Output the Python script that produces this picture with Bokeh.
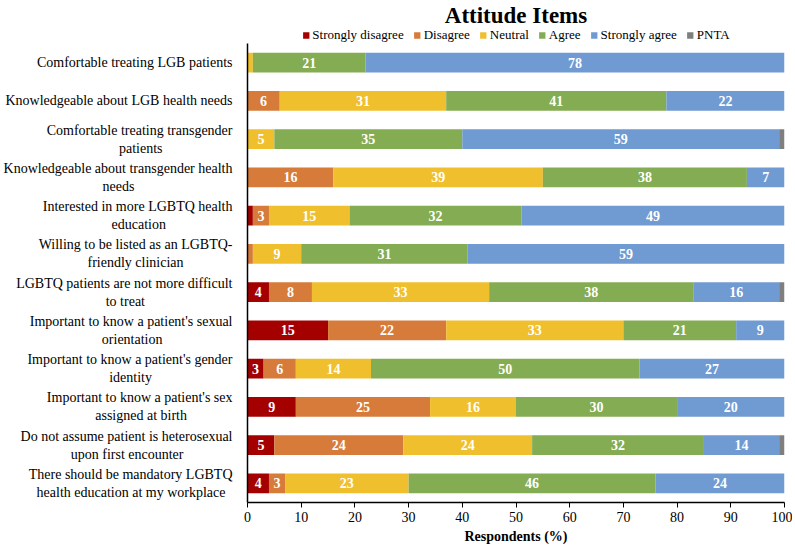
from bokeh.plotting import figure
from bokeh.layouts import column
from bokeh.models import ColumnDataSource, FactorRange, Legend, LegendItem, Range1d, FixedTicker
from bokeh.core.properties import value
from bokeh.embed import file_html
from bokeh.resources import INLINE

items = [
    "Comfortable treating LGB patients",
    "Knowledgeable about LGB health needs",
    "Comfortable treating transgender\npatients",
    "Knowledgeable about transgender health\nneeds",
    "Interested in more LGBTQ health\neducation",
    "Willing to be listed as an LGBTQ-\nfriendly clinician",
    "LGBTQ patients are not more difficult\nto treat",
    "Important to know a patient's sexual\norientation",
    "Important to know a patient's gender\nidentity",
    "Important to know a patient's sex\nassigned at birth",
    "Do not assume patient is heterosexual\nupon first encounter",
    "There should be mandatory LGBTQ\nhealth education at my workplace",
]
strongly_disagree = [0, 0, 0, 0, 1, 0, 4, 15, 3, 9, 5, 4]
disagree          = [0, 6, 0, 16, 3, 1, 8, 22, 6, 25, 24, 3]
neutral           = [1, 31, 5, 39, 15, 9, 33, 33, 14, 16, 24, 23]
agree             = [21, 41, 35, 38, 32, 31, 38, 21, 50, 30, 32, 46]
strongly_agree    = [78, 22, 59, 7, 49, 59, 16, 9, 27, 20, 14, 24]
pnta              = [0, 0, 1, 0, 0, 0, 1, 0, 0, 0, 1, 0]

series_names = ["Strongly disagree", "Disagree", "Neutral", "Agree", "Strongly agree", "PNTA"]
series_vals = [strongly_disagree, disagree, neutral, agree, strongly_agree, pnta]
colors = ["#A50000", "#D67B3A", "#F0BF2D", "#84AC52", "#6F9AD2", "#7F7F7F"]
keys = ["sd", "d", "n", "a", "sa", "p"]

# Approximate Times/Liberation Serif advance widths (per 1000 em) to centre
# the second line of each two-line label under the first (as in the reference).
_W = {" ": 250, "a": 444, "b": 500, "c": 444, "d": 500, "e": 444, "f": 333, "g": 500,
      "h": 500, "i": 278, "j": 278, "k": 500, "l": 278, "m": 778, "n": 500, "o": 500,
      "p": 500, "q": 500, "r": 333, "s": 389, "t": 278, "u": 500, "v": 500, "w": 722,
      "x": 500, "y": 500, "z": 444, "A": 722, "B": 667, "C": 667, "D": 722, "E": 611,
      "F": 556, "G": 722, "H": 722, "I": 333, "K": 722, "L": 611, "M": 889, "N": 722,
      "O": 722, "P": 556, "Q": 722, "R": 667, "S": 556, "T": 611, "U": 722, "W": 944,
      "-": 333, "'": 180}


def _width(s):
    return sum(_W.get(c, 500) for c in s)


def centred(label):
    lines = label.split("\n")
    if len(lines) < 2:
        return label
    wmax = max(_width(l) for l in lines)
    out = []
    for l in lines:
        n = int(round((wmax - _width(l)) / 2 / 250))
        out.append(l + "\u00a0" * n)
    return "\n".join(out)


display_items = [centred(s) for s in items]

data = {"item": display_items}
for k, v in zip(keys, series_vals):
    data[k] = v
source = ColumnDataSource(data)

SERIF = "Liberation Serif"
W = 792
LEFT = 245
RIGHT = 8

# ---------------- header: title + legend ----------------
head = figure(width=W, height=42, output_backend="svg", toolbar_location=None,
              min_border_left=LEFT, min_border_right=RIGHT, min_border_top=0, min_border_bottom=0)
head.axis.visible = False
head.grid.grid_line_color = None
head.outline_line_color = None
leg_rs = [head.hbar(y=[0], left=[0], right=[0], height=0, fill_color=c, line_color=None)
          for c in colors]
legend = Legend(items=[LegendItem(label=n, renderers=[r]) for n, r in zip(series_names, leg_rs)],
                orientation="horizontal", location="center",
                label_text_font=SERIF, label_text_font_size="13px", label_text_color="black",
                glyph_width=8, glyph_height=8, spacing=9, label_standoff=3,
                padding=0, margin=0, border_line_color=None, background_fill_alpha=0)
head.add_layout(legend)
head.title.text = "Attitude Items"
head.title.text_font = SERIF
head.title.text_font_size = "23px"
head.title.text_font_style = "bold"
head.title.text_color = "black"
head.title.align = "center"
head.title.standoff = 0

# ---------------- main chart ----------------
p = figure(width=W, height=504, output_backend="svg", toolbar_location=None,
           y_range=FactorRange(*list(reversed(display_items)), range_padding=0),
           x_range=Range1d(0, 100),
           min_border_left=LEFT, min_border_right=RIGHT, min_border_top=1, min_border_bottom=0)

p.hbar_stack(keys, y="item", height=0.52, color=colors, source=source, line_color=None)

# value labels
lx, ly, lt = [], [], []
for i, it in enumerate(display_items):
    cum = 0
    for vals in series_vals:
        v = vals[i]
        if v >= 3:
            lx.append(cum + v / 2)
            ly.append(it)
            lt.append(str(v))
        cum += v
p.text(x=lx, y=ly, text=lt, text_color="white", text_font=value(SERIF),
       text_font_style="bold", text_font_size="14px", text_align="center",
       text_baseline="middle")

p.xgrid.grid_line_color = None
p.ygrid.grid_line_color = None
p.outline_line_color = None

p.xaxis.ticker = FixedTicker(ticks=list(range(0, 101, 10)))
p.xaxis.axis_label = "Respondents (%)"
p.xaxis.axis_label_text_font = SERIF
p.xaxis.axis_label_text_font_style = "bold"
p.xaxis.axis_label_text_font_size = "14px"
p.xaxis.axis_label_text_color = "black"
p.xaxis.axis_label_standoff = 4
p.xaxis.major_label_text_font = SERIF
p.xaxis.major_label_text_font_size = "14px"
p.xaxis.major_label_text_color = "black"
p.xaxis.major_label_standoff = 4
p.xaxis.major_tick_out = 5
p.xaxis.major_tick_in = 0
p.xaxis.minor_tick_line_color = None
p.xaxis.axis_line_width = 1.5
p.xaxis.axis_line_color = "black"

p.yaxis.major_label_text_font = SERIF
p.yaxis.major_label_text_font_size = "14px"
p.yaxis.major_label_text_color = "black"
p.yaxis.major_tick_line_color = None
p.yaxis.axis_line_width = 1.5
p.yaxis.axis_line_color = "black"
p.yaxis.major_label_standoff = 9

layout = column(head, p, spacing=0)
open("out.html", "w").write(file_html(layout, INLINE))
